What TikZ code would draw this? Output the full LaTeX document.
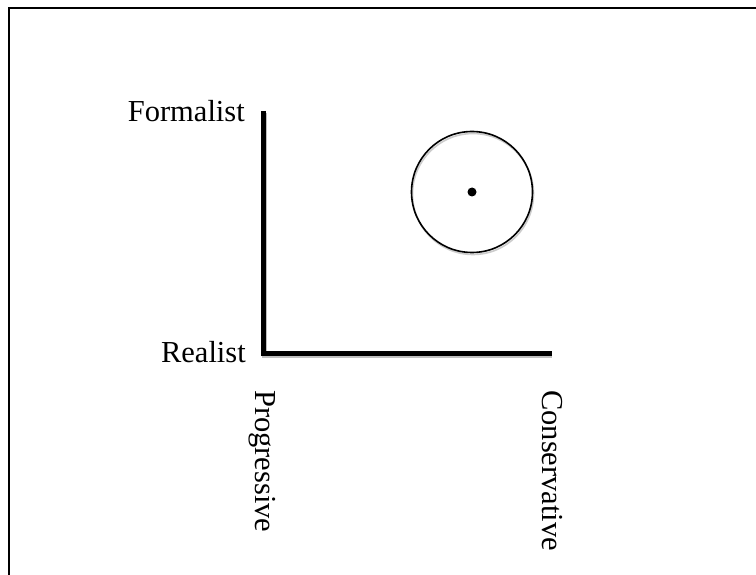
\documentclass[tikz,border=0pt]{standalone}
\usepackage{fontspec}
\setmainfont{Liberation Serif}
\begin{document}
\begin{tikzpicture}[x=1pt,y=-1pt,
  lbl/.style={font=\fontsize{30.5}{36}\selectfont, inner sep=0pt},
  axisline/.style={line width=5pt, line join=miter, line cap=butt},
  shadowline/.style={line width=5pt, line join=miter, line cap=butt, draw=black!25},
  ring/.style={circle, draw, line width=1.6pt, minimum size=121pt, inner sep=0pt},
  dot/.style={circle, fill, minimum size=9pt, inner sep=0pt}]
\useasboundingbox (0,0) rectangle (756,575);
\fill[white] (0,0) rectangle (756,575);
% frame (only top and left edges visible)
\coordinate (fbl) at (9,580);
\coordinate (ftl) at (9,8);
\coordinate (ftr) at (760,8);
\draw[line width=2.5pt, line join=miter] (fbl) -- (ftl) -- (ftr);
% axes
\coordinate (top) at (263,111);
\coordinate (origin) at (263,353);
\coordinate (right) at (552,353);
\draw[shadowline] ([shift={(1,2)}]top) -- ([shift={(1,2)}]origin) -- ([shift={(0,2)}]right);
\draw[axisline] (top) -- (origin) -- (right);
% labels
\node[lbl, anchor=base east] (formalist) at (245,122) {Formalist};
\node[lbl, anchor=base east] (realist) at (246,362) {Realist};
\node[lbl, rotate=-90, anchor=base west] (progressive) at (255,390) {Progressive};
\node[lbl, rotate=-90, anchor=base west] (conservative) at (542,390) {Conservative};
% circle and dot
\node[ring, draw=black!20] (ringshadow) at (473,194) {};
\node[ring] (ring) at (472,192) {};
\node[dot] (center) at (ring.center) {};
\end{tikzpicture}
\end{document}
